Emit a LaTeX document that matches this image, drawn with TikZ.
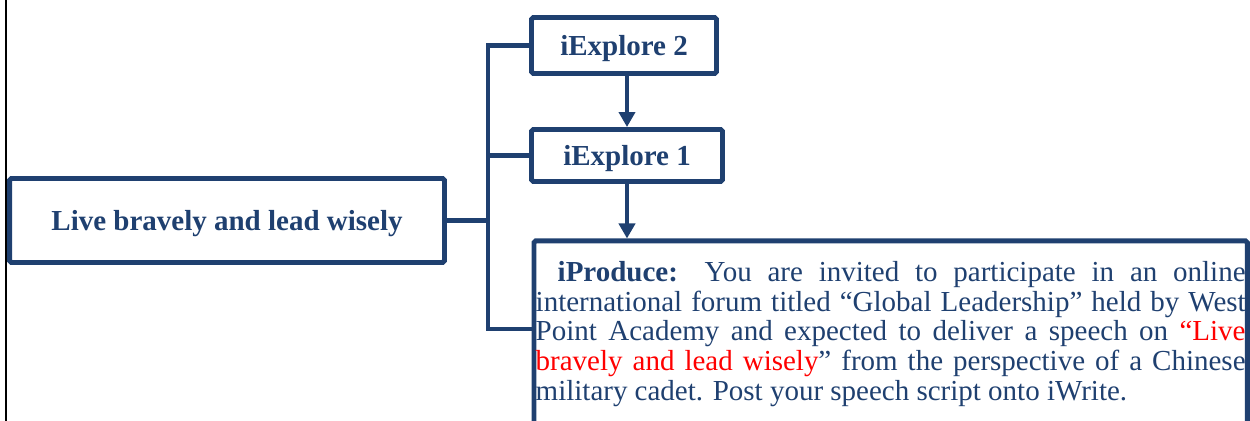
\documentclass[tikz,border=0pt]{standalone}
\usepackage{fontspec}
\setmainfont{Liberation Serif}
\usetikzlibrary{arrows.meta}
\definecolor{darkblue}{RGB}{31,64,112}

\begin{document}
\begin{tikzpicture}[x=0.02cm,y=-0.02cm,
	box/.style={draw=darkblue,line width=2.8pt,rounded corners=1pt,inner sep=0pt,text=darkblue,font=\fontsize{16.5}{16.8}\selectfont\bfseries,text height=0.48cm,text depth=0.08cm,align=center},
	taskbox/.style={draw=darkblue,line width=2.8pt,rounded corners=1pt,inner xsep=0.035cm,inner ysep=0.3cm,text=darkblue,font=\fontsize{16.5}{16.9}\selectfont,text width=14.2cm,align=justify,minimum height=3.72cm},
	link/.style={draw=darkblue,line width=2.8pt},
	arr/.style={link,-{Triangle[length=0.3cm,width=0.32cm]}}]
	\useasboundingbox (0,0) rectangle (1250,421);
	\clip (0,0) rectangle (1250,421);
	
	\draw[black,line width=1.1pt] (6,0) -- (6,421);
	
	\node[box,minimum width=8.7cm,minimum height=1.68cm] (live) at (227,220.5) {Live bravely and lead wisely};
	
	\node[box,minimum width=3.7cm,minimum height=1.12cm] (ex2) at (624,45.5) {iExplore 2};
	\node[box,minimum width=3.82cm,minimum height=1.04cm] (ex1) at (627,155.5) {iExplore 1};
	
	\node[taskbox,anchor=north west] (prod) at (531.5,238.5) {\tolerance=10000\noindent\hspace*{0.44cm}\textbf{iProduce:} You are invited to participate in an online\linebreak international forum titled “Global Leadership” held by West\linebreak Point Academy and expected to deliver a speech on \textcolor{red}{“Live\linebreak bravely and lead wisely}” from the perspective of a Chinese\linebreak military cadet. Post your speech script onto iWrite.};
	
	\coordinate (bus) at (488,0);
	\coordinate (prodin) at (531.5,329);
	
	\draw[link] (live.east) -- (live.east -| bus);
	\draw[link] (ex2.west) -- (ex2.west -| bus) -- (bus |- prodin) -- (prodin);
	\draw[link] (ex1.west) -- (ex1.west -| bus);
	
	\draw[arr] (ex1.north |- ex2.south) -- (ex1.north);
	\draw[arr] (ex1.south) -- (ex1.south |- prod.north);
\end{tikzpicture}
\end{document}
